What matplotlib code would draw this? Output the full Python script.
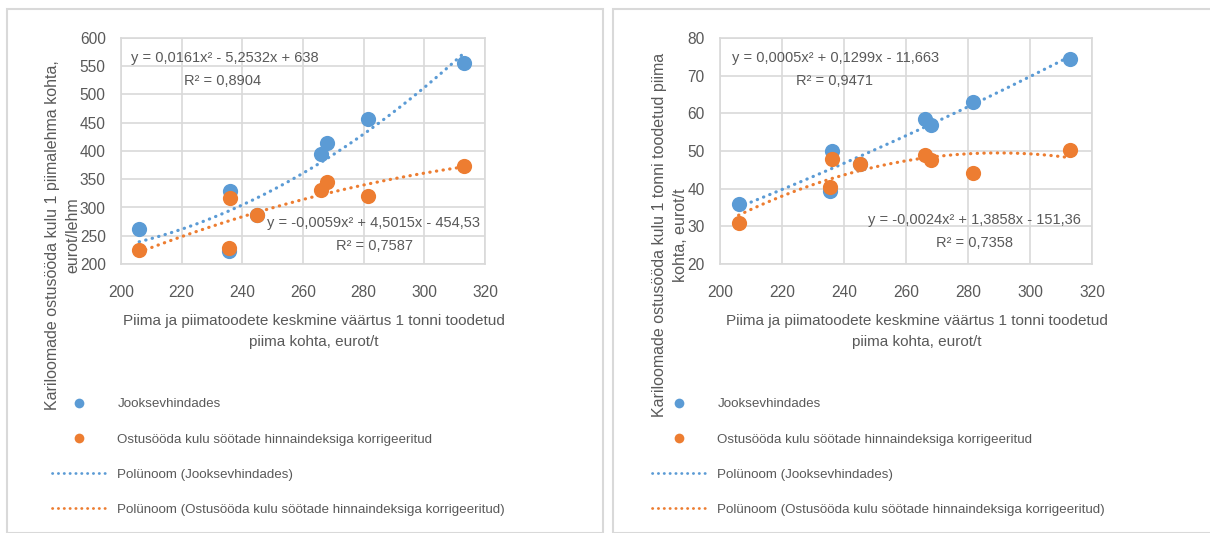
import numpy as np
import matplotlib
matplotlib.use("Agg")
from matplotlib import pyplot as plt
from matplotlib.patches import Rectangle
from matplotlib.lines import Line2D

# andmed (loetud jooniselt)
x_hind = [206, 236, 235.5, 245, 266, 268, 281.5, 313]
lehm_jooksev = [262, 329, 223, 286, 394, 415, 456, 556]
lehm_korr = [224, 317, 229, 286, 331, 345, 321, 374]
tonn_jooksev = [36, 50, 39.5, 46.5, 58.5, 57, 63, 74.5]
tonn_korr = [31, 48, 40.5, 46.5, 49, 47.5, 44.2, 50.3]

blue = '#5B9BD5'
orange = '#ED7D31'
grid = '#D9D9D9'
txt = '#595959'

plt.rcParams['font.family'] = ['Liberation Sans', 'DejaVu Sans']

fig = plt.figure(figsize=(12.1, 5.33), dpi=100)
W, H = 1210, 533

# raamid
fig.patches.append(Rectangle((7 / W, 0), 596 / W, 1 - 9 / H, transform=fig.transFigure,
                             fill=False, ec=grid, lw=1.5))
fig.patches.append(Rectangle((613 / W, 0), 700 / W, 1 - 9 / H, transform=fig.transFigure,
                             fill=False, ec=grid, lw=1.5))

dots = (0, (0.1, 2))


def panel(left, width, y1, y2, ylim, ystep, ylabel, ylab_x, eqs):
    ax = fig.add_axes([left / W, 1 - 264 / H, width / W, 226 / H])
    ax.scatter(x_hind, y1, s=120, color=blue, zorder=3, lw=0)
    ax.scatter(x_hind, y2, s=120, color=orange, zorder=4, lw=0)
    xs = np.linspace(min(x_hind), max(x_hind), 200)
    # 2. astme polünoomtrend nagu Excelis
    ax.plot(xs, np.polyval(np.polyfit(x_hind, y1, 2), xs), color=blue, lw=2.3, ls=dots,
            dash_capstyle='round', zorder=2)
    ax.plot(xs, np.polyval(np.polyfit(x_hind, y2, 2), xs), color=orange, lw=2.3, ls=dots,
            dash_capstyle='round', zorder=2)
    ax.set_xlim(200, 320)
    ax.set_ylim(*ylim)
    ax.set_xticks(range(200, 321, 20))
    ax.set_yticks(np.arange(ylim[0], ylim[1] + 1, ystep))
    ax.grid(True, color=grid, lw=1.2)
    ax.set_axisbelow(True)
    for s in ax.spines.values():
        s.set_color(grid)
        s.set_linewidth(1.2)
    ax.tick_params(length=0, labelsize=11.2, colors=txt)
    ax.tick_params(axis='x', pad=15)
    ax.tick_params(axis='y', pad=11)
    ax.set_xlabel('Piima ja piimatoodete keskmine väärtus 1 tonni toodetud\npiima kohta, eurot/t',
                  fontsize=11, color=txt, linespacing=1.6)
    ax.xaxis.set_label_coords(0.5 + 11 / width, -50 / 226, transform=ax.transAxes)
    ax.xaxis.label.set_va('top')
    fig.text(ylab_x / W, 1 - 235 / H, ylabel, rotation=90, ha='center', va='center',
             fontsize=11.5, color=txt, ma='center', linespacing=1.45)
    for (ex, ey, s, ha) in eqs:
        ax.text(ex, ey, s, ha=ha, va='center', fontsize=10.5, color=txt)
    return ax


panel(121, 364, lehm_jooksev, lehm_korr, (200, 600), 50,
      'Kariloomade ostusööda kulu 1 piimalehma kohta,\neurot/lehm', 63,
      [(203.3, 565, 'y = 0,0161x² - 5,2532x + 638', 'left'),
       (233.6, 524, 'R² = 0,8904', 'center'),
       (283.4, 272.6, 'y = -0,0059x² + 4,5015x - 454,53', 'center'),
       (283.5, 232, 'R² = 0,7587', 'center')])

panel(720, 372, tonn_jooksev, tonn_korr, (20, 80), 10,
      'Kariloomade ostusööda kulu 1 tonni toodetud piima\nkohta, eurot/t', 670,
      [(203.9, 74.7, 'y = 0,0005x² + 0,1299x - 11,663', 'left'),
       (236.8, 68.6, 'R² = 0,9471', 'center'),
       (282.1, 31.7, 'y = -0,0024x² + 1,3858x - 151,36', 'center'),
       (282.1, 25.6, 'R² = 0,7358', 'center')])

handles = [Line2D([], [], ls='none', marker='o', ms=7, color=blue, mew=0),
           Line2D([], [], ls='none', marker='o', ms=7, color=orange, mew=0),
           Line2D([], [], color=blue, lw=2, ls=dots, dash_capstyle='round'),
           Line2D([], [], color=orange, lw=2, ls=dots, dash_capstyle='round')]
labels = ['Jooksevhindades', 'Ostusööda kulu söötade hinnaindeksiga korrigeeritud',
          'Polünoom (Jooksevhindades)',
          'Polünoom (Ostusööda kulu söötade hinnaindeksiga korrigeeritud)']

for lx in (52, 652):
    fig.legend(handles, labels, loc='upper left', bbox_to_anchor=(lx / W, 1 - 398 / H),
               frameon=False, fontsize=9.6, labelcolor=txt, handlelength=4.1,
               handletextpad=0.8, labelspacing=1.72, borderpad=0, borderaxespad=0)

fig.savefig('out.png', dpi=100)
